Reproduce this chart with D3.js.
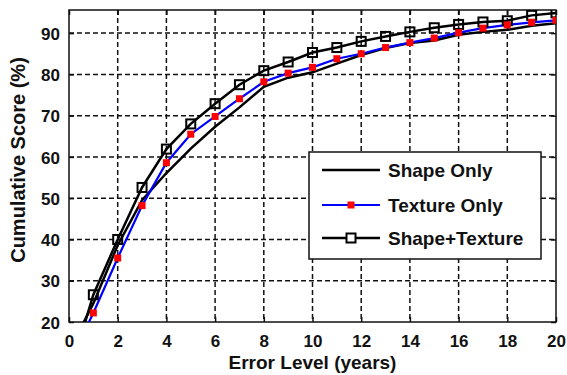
<!DOCTYPE html>
<html>
<head>
<meta charset="utf-8">
<script src="https://cdn.jsdelivr.net/npm/d3@7"></script>
<style>
  body { margin: 0; background: #fff; }
  text { font-family: "Liberation Sans", Arial, sans-serif; font-weight: bold; fill: #111; }
</style>
</head>
<body>
<div id="chart"></div>
<script>
// error levels (years); x=0 points lie below the visible y range and get clipped
const errorLevels = [0, 1, 2, 3, 4, 5, 6, 7, 8, 9, 10, 11, 12, 13, 14, 15, 16, 17, 18, 19, 20];
const shapeOnly = [13, 24.5, 38.6, 49.5, 56.1, 62.0, 67.3, 72.0, 77.0, 79.2, 80.5, 82.6, 84.7, 86.4, 87.6, 88.2, 89.6, 90.3, 90.8, 91.8, 92.4];
const textureOnly = [10, 22.2, 35.5, 48.2, 58.6, 65.5, 69.8, 74.1, 78.2, 80.3, 81.7, 83.8, 85.0, 86.5, 87.7, 88.8, 90.1, 91.2, 92.0, 92.6, 93.1];
const shapeTexture = [7, 26.6, 40.0, 52.6, 61.9, 68.0, 72.9, 77.5, 80.9, 83.0, 85.3, 86.5, 88.0, 89.2, 90.3, 91.3, 92.1, 92.7, 93.0, 94.3, 94.9];
const xTicks = [0, 2, 4, 6, 8, 10, 12, 14, 16, 18, 20];
const yTicks = [20, 30, 40, 50, 60, 70, 80, 90];
const seriesNames = ["Shape Only", "Texture Only", "Shape+Texture"];

const W = 567, H = 375;
const margin = { top: 10, right: 11, bottom: 53, left: 69 };
const width = W - margin.left - margin.right;
const height = H - margin.top - margin.bottom;

const svg = d3.select("#chart").append("svg")
    .attr("width", W)
    .attr("height", H);

const g = svg.append("g")
    .attr("transform", "translate(" + margin.left + "," + margin.top + ")");

const x = d3.scaleLinear().domain([0, 20]).range([0, width]);
const y = d3.scaleLinear().domain([20, 95.6]).range([height, 0]);

// dashed grid
g.append("g")
    .selectAll("line")
    .data(xTicks.slice(1, -1))
    .enter().append("line")
    .attr("x1", d => x(d)).attr("x2", d => x(d))
    .attr("y1", 0).attr("y2", height)
    .attr("stroke", "#111").attr("stroke-width", 1.5)
    .attr("stroke-dasharray", "5,3");

g.append("g")
    .selectAll("line")
    .data(yTicks.slice(1))
    .enter().append("line")
    .attr("x1", 0).attr("x2", width)
    .attr("y1", d => y(d)).attr("y2", d => y(d))
    .attr("stroke", "#111").attr("stroke-width", 1.5)
    .attr("stroke-dasharray", "5,3");

// axes (ticks drawn inward, matlab style)
const xAxis = g.append("g")
    .attr("transform", "translate(0," + height + ")")
    .call(d3.axisBottom(x).tickValues(xTicks).tickSizeInner(-5).tickSizeOuter(0).tickPadding(13));
const yAxis = g.append("g")
    .call(d3.axisLeft(y).tickValues(yTicks).tickSizeInner(-5).tickSizeOuter(0).tickPadding(9));
g.append("g")
    .call(d3.axisTop(x).tickValues(xTicks).tickSizeInner(-5).tickSizeOuter(0).tickFormat(""));
g.append("g")
    .attr("transform", "translate(" + width + ",0)")
    .call(d3.axisRight(y).tickValues(yTicks).tickSizeInner(-5).tickSizeOuter(0).tickFormat(""));

g.selectAll(".domain").attr("stroke", "none");
g.selectAll(".tick line").attr("stroke", "#111").attr("stroke-width", 1.5);
xAxis.selectAll("text").style("font-size", "17px").attr("fill", "#111");
yAxis.selectAll("text").style("font-size", "17px").attr("fill", "#111").attr("dy", "0.36em");

// box
g.append("rect")
    .attr("x", 0).attr("y", 0)
    .attr("width", width).attr("height", height)
    .attr("fill", "none").attr("stroke", "#111").attr("stroke-width", 1.5);

// clip for the lines
svg.append("defs").append("clipPath").attr("id", "plotclip")
    .append("rect").attr("x", 0).attr("y", 0).attr("width", width).attr("height", height);

const plot = g.append("g").attr("clip-path", "url(#plotclip)");

const line = d3.line()
    .x((d, i) => x(errorLevels[i]))
    .y(d => y(d));

plot.append("path").datum(shapeOnly)
    .attr("d", line).attr("fill", "none")
    .attr("stroke", "#000").attr("stroke-width", 2.5);

plot.append("path").datum(shapeTexture)
    .attr("d", line).attr("fill", "none")
    .attr("stroke", "#000").attr("stroke-width", 2.5);

plot.append("path").datum(textureOnly)
    .attr("d", line).attr("fill", "none")
    .attr("stroke", "#0000ff").attr("stroke-width", 2.2);

// markers (skip x=0, it's off the plot)
const pts = errorLevels.map((e, i) => i).filter(i => errorLevels[i] > 0);

plot.selectAll(".stMark")
    .data(pts).enter().append("rect")
    .attr("x", i => x(errorLevels[i]) - 4.5)
    .attr("y", i => y(shapeTexture[i]) - 4.5)
    .attr("width", 9).attr("height", 9)
    .attr("fill", "none").attr("stroke", "#000").attr("stroke-width", 2);

plot.selectAll(".txMark")
    .data(pts).enter().append("rect")
    .attr("x", i => x(errorLevels[i]) - 3.5)
    .attr("y", i => y(textureOnly[i]) - 3.5)
    .attr("width", 7).attr("height", 7)
    .attr("fill", "#ff0000");

// axis titles
svg.append("text")
    .attr("x", margin.left + width / 2)
    .attr("y", 369)
    .attr("text-anchor", "middle")
    .style("font-size", "19px")
    .text("Error Level (years)");

svg.append("text")
    .attr("transform", "translate(25,160) rotate(-90)")
    .attr("text-anchor", "middle")
    .style("font-size", "20px")
    .text("Cumulative Score (%)");

// legend
const lg = svg.append("g").attr("transform", "translate(309,152)");
lg.append("rect")
    .attr("width", 232).attr("height", 107)
    .attr("fill", "#fff").attr("stroke", "#111").attr("stroke-width", 1.5);

const rowsY = [18, 53, 86];
seriesNames.forEach((name, k) => {
    const row = lg.append("g").attr("transform", "translate(0," + rowsY[k] + ")");
    row.append("line")
        .attr("x1", 13).attr("x2", 71)
        .attr("stroke", k === 1 ? "#0000ff" : "#000")
        .attr("stroke-width", k === 1 ? 2.2 : 2.5);
    if (k === 1) {
        row.append("rect").attr("x", 38.5).attr("y", -3.5).attr("width", 7).attr("height", 7).attr("fill", "#ff0000");
    } else if (k === 2) {
        row.append("rect").attr("x", 37.5).attr("y", -4.5).attr("width", 9).attr("height", 9)
            .attr("fill", "#fff").attr("stroke", "#000").attr("stroke-width", 2);
    }
    row.append("text")
        .attr("x", 79).attr("dy", "0.36em")
        .style("font-size", "19px")
        .text(name);
});
</script>
</body>
</html>
